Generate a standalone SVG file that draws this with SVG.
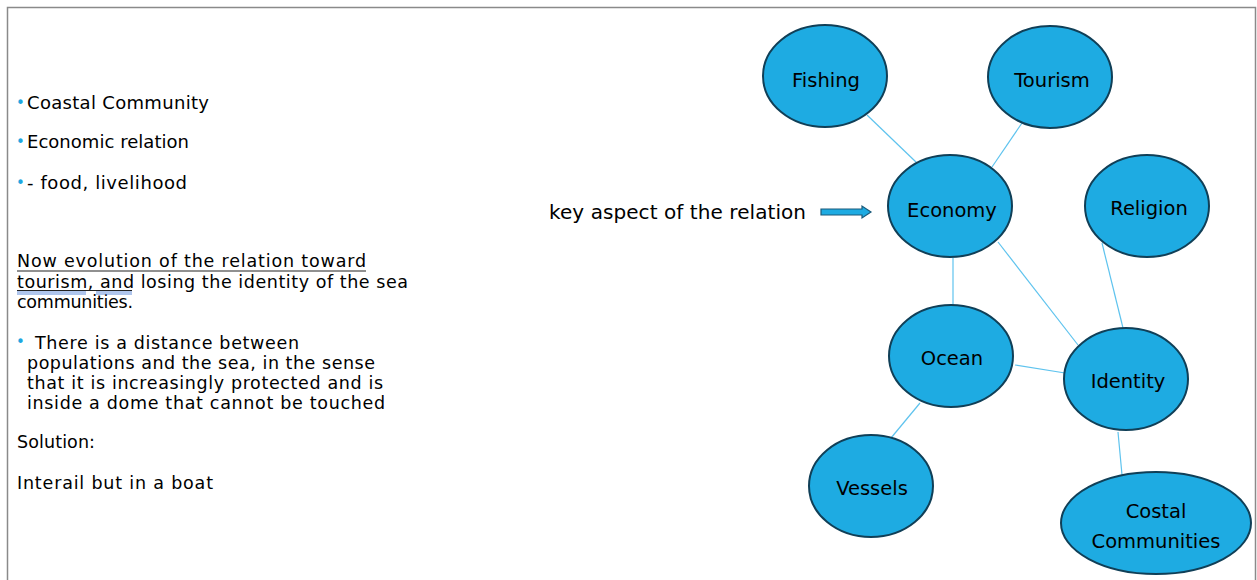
<svg xmlns="http://www.w3.org/2000/svg" width="1257" height="580" viewBox="0 0 1257 580">
<style>
.t{font-family:"DejaVu Sans","Liberation Sans",sans-serif;fill:#000;}
.b{font-size:18px;}
.p{font-size:17.5px;}
.bul{font-family:"DejaVu Sans",sans-serif;fill:#1ea7e1;font-size:15px;}
.node ellipse{fill:#1eabe2;stroke:#103f57;stroke-width:2;}
.node text{font-family:"DejaVu Sans","Liberation Sans",sans-serif;font-size:19.5px;fill:#000;text-anchor:middle;}
.conn line{stroke:#5ec3ee;stroke-width:1.2;}
</style>
<rect width="1257" height="580" fill="#fff"/>
<g id="frame" fill="none" stroke="#8a8a8a" stroke-width="1.5">
<path d="M7.5,580 V7.5 H1255.5 V580"/>
</g>
<g id="left-text">
<text class="bul" x="16" y="108">•</text>
<text class="t b" x="27" y="109" textLength="182" lengthAdjust="spacing">Coastal Community</text>
<text class="bul" x="16" y="147">•</text>
<text class="t b" x="27" y="148" textLength="162" lengthAdjust="spacing">Economic relation</text>
<text class="bul" x="16" y="188">•</text>
<text class="t b" x="27" y="189" textLength="160" lengthAdjust="spacing">- food, livelihood</text>
<text class="t p" x="17" y="267" textLength="349" lengthAdjust="spacing">Now evolution of the relation toward</text>
<text class="t p" x="17" y="288" textLength="391" lengthAdjust="spacing">tourism, and losing the identity of the sea</text>
<text class="t p" x="17" y="308" textLength="116" lengthAdjust="spacing">communities.</text>
<line x1="17" y1="271" x2="366" y2="271" stroke="#222" stroke-width="1.2"/>
<line x1="17" y1="290.5" x2="132" y2="290.5" stroke="#222" stroke-width="1.2"/>
<g stroke="#4f7fd6" stroke-width="0.9">
<line x1="17" y1="292" x2="86" y2="292"/>
<line x1="17" y1="294" x2="86" y2="294"/>
<line x1="96" y1="292" x2="132" y2="292"/>
<line x1="96" y1="294" x2="132" y2="294"/>
</g>
<text class="bul" x="16" y="347">•</text>
<text class="t p" x="35" y="349" textLength="264" lengthAdjust="spacing">There is a distance between</text>
<text class="t p" x="27" y="369" textLength="348" lengthAdjust="spacing">populations and the sea, in the sense</text>
<text class="t p" x="27" y="389" textLength="356" lengthAdjust="spacing">that it is increasingly protected and is</text>
<text class="t p" x="27" y="409" textLength="358" lengthAdjust="spacing">inside a dome that cannot be touched</text>
<text class="t p" x="17" y="448" textLength="78" lengthAdjust="spacing">Solution:</text>
<text class="t p" x="17" y="489" textLength="196" lengthAdjust="spacing">Interail but in a boat</text>
</g>
<g id="key-label">
<text class="t" x="549" y="219" font-size="20" textLength="257" lengthAdjust="spacing">key aspect of the relation</text>
<polygon points="821,209 862,209 862,206 871,212 862,218 862,215 821,215" fill="#1eabe2" stroke="#1b5a7a" stroke-width="1.2"/>
</g>
<g id="connectors" class="conn">
<line x1="867" y1="115" x2="917" y2="163"/>
<line x1="1022" y1="123" x2="992" y2="167"/>
<line x1="953" y1="258" x2="953" y2="305"/>
<line x1="998" y1="242" x2="1078" y2="345"/>
<line x1="1102" y1="243" x2="1123" y2="328"/>
<line x1="1015" y1="365" x2="1065" y2="373"/>
<line x1="920" y1="403" x2="891" y2="438"/>
<line x1="1118" y1="432" x2="1122" y2="475"/>
</g>
<g id="node-fishing" class="node"><ellipse cx="825" cy="76" rx="62" ry="51"/><text x="826" y="87">Fishing</text></g>
<g id="node-tourism" class="node"><ellipse cx="1050" cy="77" rx="62" ry="51"/><text x="1052" y="87">Tourism</text></g>
<g id="node-economy" class="node"><ellipse cx="950" cy="206" rx="62" ry="51"/><text x="952" y="217">Economy</text></g>
<g id="node-religion" class="node"><ellipse cx="1147" cy="206" rx="62" ry="51"/><text x="1149" y="215">Religion</text></g>
<g id="node-ocean" class="node"><ellipse cx="951" cy="356" rx="62" ry="51"/><text x="952" y="365">Ocean</text></g>
<g id="node-identity" class="node"><ellipse cx="1126" cy="379" rx="62" ry="51"/><text x="1128" y="388">Identity</text></g>
<g id="node-vessels" class="node"><ellipse cx="871" cy="486" rx="62" ry="51"/><text x="872" y="495">Vessels</text></g>
<g id="node-costal" class="node"><ellipse cx="1156" cy="523" rx="95" ry="51"/><text x="1156" y="518">Costal</text><text x="1156" y="548">Communities</text></g>
</svg>
